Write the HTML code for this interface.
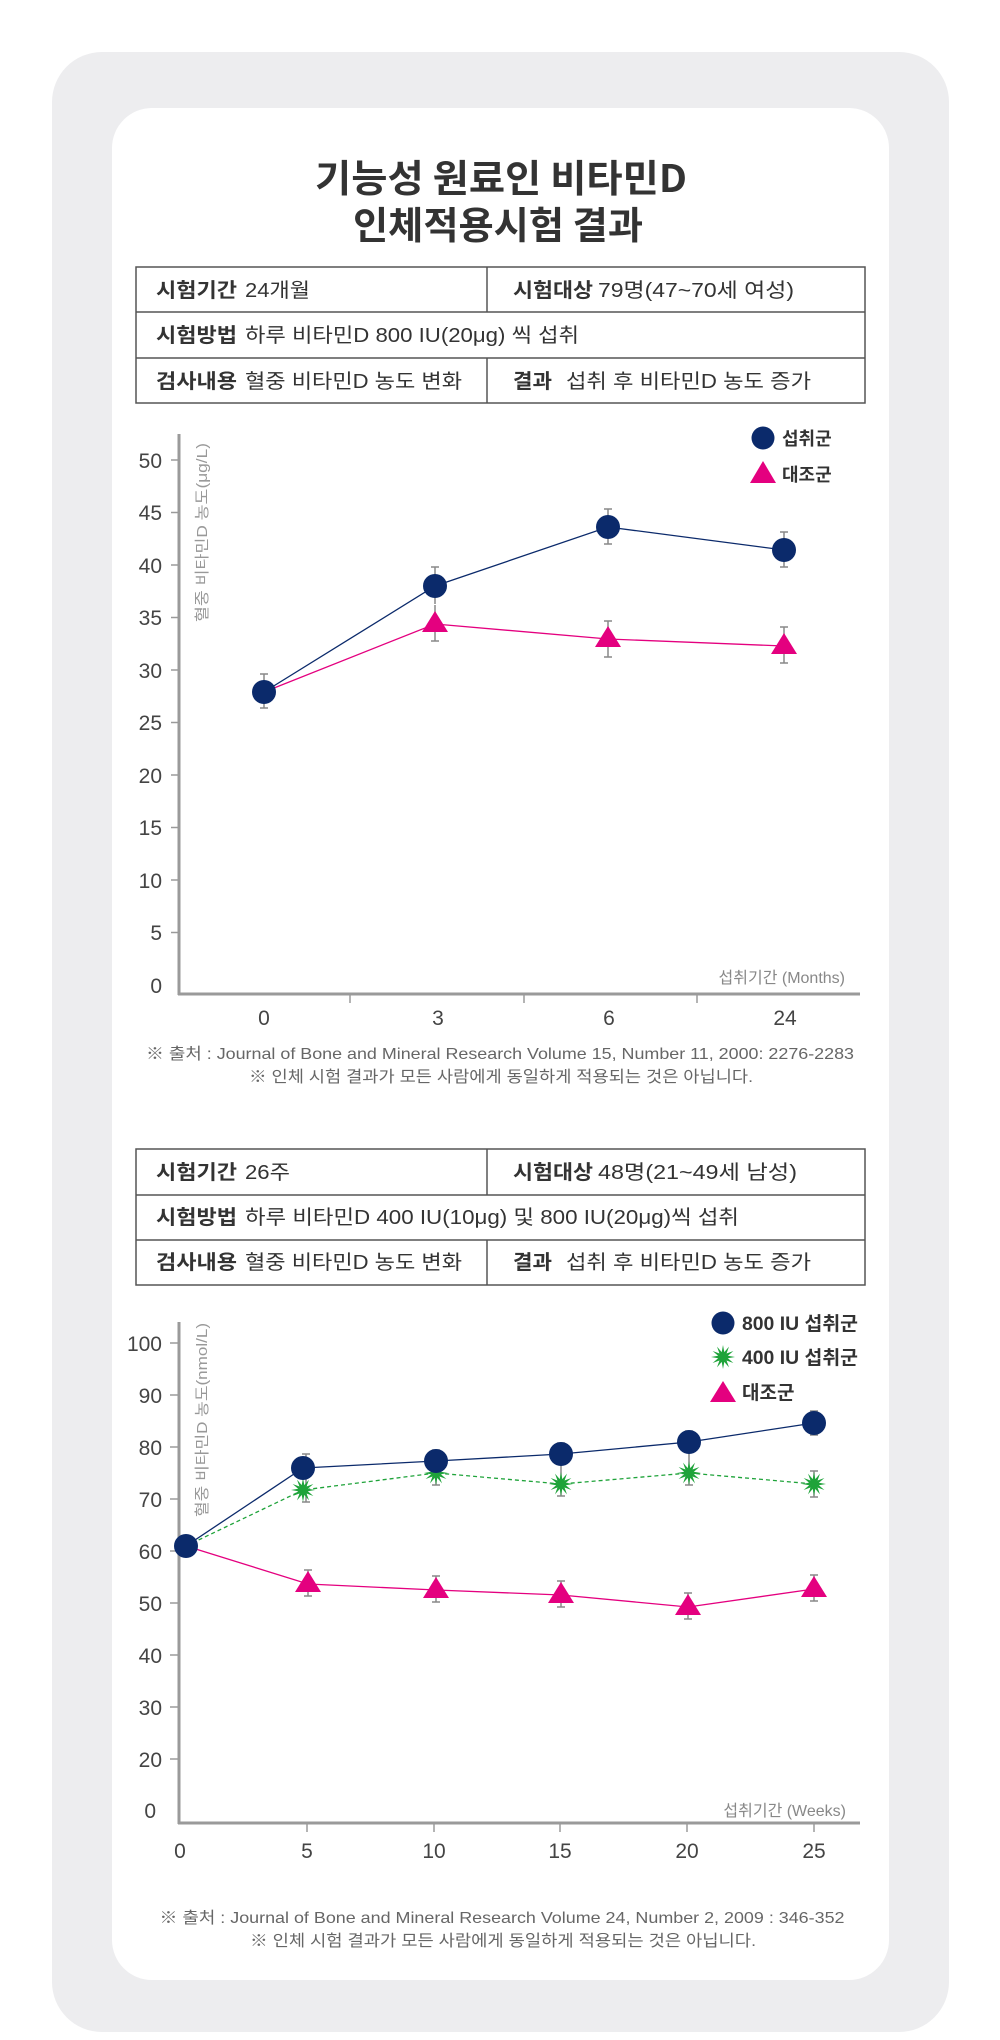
<!DOCTYPE html>
<html><head><meta charset="utf-8"><style>
html,body{margin:0;padding:0;background:#fff;}
svg{display:block;font-family:"Liberation Sans","Noto Sans CJK KR",sans-serif;}
</style></head><body>
<svg width="1000" height="2040" viewBox="0 0 1000 2040" xmlns="http://www.w3.org/2000/svg">
<defs>
<polygon id="star" points="12,0 4.83,1.29 10.39,6 3.54,3.54 6,10.39 1.29,4.83 0,12 -1.29,4.83 -6,10.39 -3.54,3.54 -10.39,6 -4.83,1.29 -12,0 -4.83,-1.29 -10.39,-6 -3.54,-3.54 -6,-10.39 -1.29,-4.83 0,-12 1.29,-4.83 6,-10.39 3.54,-3.54 10.39,-6 4.83,-1.29" fill="#1fa33a"/>
</defs>
<rect x="52" y="52" width="897" height="1980" rx="50" fill="#ededef"/>
<rect x="112" y="108" width="777" height="1872" rx="40" fill="#fff"/>

<g font-family="'Noto Sans CJK KR',sans-serif" font-weight="bold" fill="#333" font-size="38">
<text x="315" y="192" textLength="372" lengthAdjust="spacingAndGlyphs">기능성 원료인 비타민D</text>
<text x="353" y="239" textLength="290" lengthAdjust="spacingAndGlyphs">인체적용시험 결과</text>
</g>

<!-- Table 1 -->
<g fill="none" stroke="#555" stroke-width="1.5">
<rect x="136" y="267" width="729" height="136"/>
<line x1="136" y1="312" x2="865" y2="312"/><line x1="136" y1="358" x2="865" y2="358"/>
<line x1="487" y1="267" x2="487" y2="312"/><line x1="487" y1="358" x2="487" y2="403"/>
</g>
<g font-size="20" fill="#333" font-family="'Liberation Sans','Noto Sans CJK KR',sans-serif">
<text x="156" y="297" font-weight="bold" textLength="81" lengthAdjust="spacingAndGlyphs" font-family="'Noto Sans CJK KR',sans-serif">시험기간</text>
<text x="245" y="297" textLength="65" lengthAdjust="spacingAndGlyphs">24개월</text>
<text x="513" y="297" font-weight="bold" textLength="80" lengthAdjust="spacingAndGlyphs" font-family="'Noto Sans CJK KR',sans-serif">시험대상</text>
<text x="598" y="297" textLength="196" lengthAdjust="spacingAndGlyphs">79명(47~70세 여성)</text>
<text x="156" y="342" font-weight="bold" textLength="81" lengthAdjust="spacingAndGlyphs" font-family="'Noto Sans CJK KR',sans-serif">시험방법</text>
<text x="245" y="342" textLength="334" lengthAdjust="spacingAndGlyphs">하루 비타민D 800 IU(20μg) 씩 섭취</text>
<text x="156" y="388" font-weight="bold" textLength="81" lengthAdjust="spacingAndGlyphs" font-family="'Noto Sans CJK KR',sans-serif">검사내용</text>
<text x="245" y="388" textLength="217" lengthAdjust="spacingAndGlyphs">혈중 비타민D 농도 변화</text>
<text x="513" y="388" font-weight="bold" textLength="39" lengthAdjust="spacingAndGlyphs" font-family="'Noto Sans CJK KR',sans-serif">결과</text>
<text x="566" y="388" textLength="245" lengthAdjust="spacingAndGlyphs">섭취 후 비타민D 농도 증가</text>
</g>

<!-- Chart 1 -->
<g stroke="#9a9a9a" stroke-width="3" fill="none">
<line x1="179" y1="434" x2="179" y2="995"/><line x1="178" y1="994" x2="860" y2="994"/>
</g>
<g stroke="#9a9a9a" stroke-width="1.5">
<line x1="171" y1="460" x2="179" y2="460"/><line x1="171" y1="512.5" x2="179" y2="512.5"/><line x1="171" y1="565" x2="179" y2="565"/><line x1="171" y1="617.5" x2="179" y2="617.5"/><line x1="171" y1="670" x2="179" y2="670"/><line x1="171" y1="722.5" x2="179" y2="722.5"/><line x1="171" y1="775" x2="179" y2="775"/><line x1="171" y1="827.5" x2="179" y2="827.5"/><line x1="171" y1="880" x2="179" y2="880"/><line x1="171" y1="932.5" x2="179" y2="932.5"/>
<line x1="350" y1="994" x2="350" y2="1003"/><line x1="524" y1="994" x2="524" y2="1003"/><line x1="697" y1="994" x2="697" y2="1003"/>
</g>
<g font-size="21" fill="#444" text-anchor="end">
<text x="162" y="468">50</text><text x="162" y="520">45</text><text x="162" y="573">40</text><text x="162" y="625">35</text><text x="162" y="678">30</text><text x="162" y="730">25</text><text x="162" y="783">20</text><text x="162" y="835">15</text><text x="162" y="888">10</text><text x="162" y="940">5</text><text x="162" y="993">0</text>
</g>
<g font-size="21" fill="#444" text-anchor="middle">
<text x="264" y="1025">0</text><text x="438" y="1025">3</text><text x="609" y="1025">6</text><text x="785" y="1025">24</text>
</g>
<text transform="translate(207,622) rotate(-90)" font-size="15" fill="#999" textLength="179" lengthAdjust="spacingAndGlyphs">혈중 비타민D 농도(μg/L)</text>
<text x="845" y="983" font-size="16" fill="#888" text-anchor="end">섭취기간 (Months)</text>

<g stroke="#888" stroke-width="1.5">
<line x1="264" y1="674" x2="264" y2="708"/><line x1="260" y1="674" x2="268" y2="674"/><line x1="260" y1="708" x2="268" y2="708"/>
<line x1="435" y1="567" x2="435" y2="604"/><line x1="431" y1="567" x2="439" y2="567"/>
<line x1="435" y1="605" x2="435" y2="641"/><line x1="431" y1="641" x2="439" y2="641"/>
<line x1="608" y1="509" x2="608" y2="544"/><line x1="604" y1="509" x2="612" y2="509"/><line x1="604" y1="544" x2="612" y2="544"/>
<line x1="784" y1="532" x2="784" y2="567"/><line x1="780" y1="532" x2="788" y2="532"/><line x1="780" y1="567" x2="788" y2="567"/>
<line x1="608" y1="621" x2="608" y2="657"/><line x1="604" y1="621" x2="612" y2="621"/><line x1="604" y1="657" x2="612" y2="657"/>
<line x1="784" y1="627" x2="784" y2="663"/><line x1="780" y1="627" x2="788" y2="627"/><line x1="780" y1="663" x2="788" y2="663"/>
</g>
<polyline points="264,692 435,624 608,639 784,646" fill="none" stroke="#e4007f" stroke-width="1.3"/>
<polyline points="264,692 435,586 608,527 784,550" fill="none" stroke="#0b2a6b" stroke-width="1.3"/>
<g fill="#e4007f">
<polygon points="435,611 422,632 448,632"/><polygon points="608,626 595,647 621,647"/><polygon points="784,633 771,654 797,654"/>
</g>
<g fill="#0b2a6b">
<circle cx="264" cy="692" r="12"/><circle cx="435" cy="586" r="12"/><circle cx="608" cy="527" r="12"/><circle cx="784" cy="550" r="12"/>
</g>
<circle cx="763" cy="438" r="11.5" fill="#0b2a6b"/>
<polygon points="763,461 750,483 776,483" fill="#e4007f"/>
<g font-size="18" font-weight="bold" fill="#333" font-family="'Noto Sans CJK KR',sans-serif">
<text x="782" y="445">섭취군</text><text x="782" y="481">대조군</text>
</g>
<g font-size="16" fill="#666" text-anchor="middle">
<text x="500" y="1059" textLength="708" lengthAdjust="spacingAndGlyphs">※ 출처 : Journal of Bone and Mineral Research Volume 15, Number 11, 2000: 2276-2283</text>
<text x="501" y="1082" textLength="504" lengthAdjust="spacingAndGlyphs">※ 인체 시험 결과가 모든 사람에게 동일하게 적용되는 것은 아닙니다.</text>
</g>

<!-- Table 2 -->
<g fill="none" stroke="#555" stroke-width="1.5">
<rect x="136" y="1149" width="729" height="136"/>
<line x1="136" y1="1195" x2="865" y2="1195"/><line x1="136" y1="1240" x2="865" y2="1240"/>
<line x1="487" y1="1149" x2="487" y2="1195"/><line x1="487" y1="1240" x2="487" y2="1285"/>
</g>
<g font-size="20" fill="#333">
<text x="156" y="1179" font-weight="bold" textLength="81" lengthAdjust="spacingAndGlyphs" font-family="'Noto Sans CJK KR',sans-serif">시험기간</text>
<text x="245" y="1179" textLength="45" lengthAdjust="spacingAndGlyphs">26주</text>
<text x="513" y="1179" font-weight="bold" textLength="80" lengthAdjust="spacingAndGlyphs" font-family="'Noto Sans CJK KR',sans-serif">시험대상</text>
<text x="598" y="1179" textLength="199" lengthAdjust="spacingAndGlyphs">48명(21~49세 남성)</text>
<text x="156" y="1224" font-weight="bold" textLength="81" lengthAdjust="spacingAndGlyphs" font-family="'Noto Sans CJK KR',sans-serif">시험방법</text>
<text x="245" y="1224" textLength="494" lengthAdjust="spacingAndGlyphs">하루 비타민D 400 IU(10μg) 및 800 IU(20μg)씩 섭취</text>
<text x="156" y="1269" font-weight="bold" textLength="81" lengthAdjust="spacingAndGlyphs" font-family="'Noto Sans CJK KR',sans-serif">검사내용</text>
<text x="245" y="1269" textLength="217" lengthAdjust="spacingAndGlyphs">혈중 비타민D 농도 변화</text>
<text x="513" y="1269" font-weight="bold" textLength="39" lengthAdjust="spacingAndGlyphs" font-family="'Noto Sans CJK KR',sans-serif">결과</text>
<text x="566" y="1269" textLength="245" lengthAdjust="spacingAndGlyphs">섭취 후 비타민D 농도 증가</text>
</g>

<!-- Chart 2 -->
<g stroke="#9a9a9a" stroke-width="3" fill="none">
<line x1="179" y1="1322" x2="179" y2="1824"/><line x1="178" y1="1823" x2="860" y2="1823"/>
</g>
<g stroke="#9a9a9a" stroke-width="1.5">
<line x1="170" y1="1343" x2="179" y2="1343"/><line x1="170" y1="1395" x2="179" y2="1395"/><line x1="170" y1="1447" x2="179" y2="1447"/><line x1="170" y1="1499" x2="179" y2="1499"/><line x1="170" y1="1551" x2="179" y2="1551"/><line x1="170" y1="1603" x2="179" y2="1603"/><line x1="170" y1="1655" x2="179" y2="1655"/><line x1="170" y1="1707" x2="179" y2="1707"/><line x1="170" y1="1759" x2="179" y2="1759"/>
<line x1="307" y1="1823" x2="307" y2="1832"/><line x1="434" y1="1823" x2="434" y2="1832"/><line x1="560" y1="1823" x2="560" y2="1832"/><line x1="687" y1="1823" x2="687" y2="1832"/><line x1="814" y1="1823" x2="814" y2="1832"/>
</g>
<g font-size="21" fill="#444" text-anchor="end">
<text x="162" y="1351">100</text><text x="162" y="1403">90</text><text x="162" y="1455">80</text><text x="162" y="1507">70</text><text x="162" y="1559">60</text><text x="162" y="1611">50</text><text x="162" y="1663">40</text><text x="162" y="1715">30</text><text x="162" y="1767">20</text><text x="156" y="1818">0</text>
</g>
<g font-size="21" fill="#444" text-anchor="middle">
<text x="180" y="1858">0</text><text x="307" y="1858">5</text><text x="434" y="1858">10</text><text x="560" y="1858">15</text><text x="687" y="1858">20</text><text x="814" y="1858">25</text>
</g>
<text transform="translate(207,1517) rotate(-90)" font-size="15" fill="#999" textLength="194" lengthAdjust="spacingAndGlyphs">혈중 비타민D 농도(nmol/L)</text>
<text x="846" y="1816" font-size="16" fill="#888" text-anchor="end">섭취기간 (Weeks)</text>

<g stroke="#888" stroke-width="1.5">
<line x1="306" y1="1454" x2="306" y2="1502"/><line x1="302" y1="1454" x2="310" y2="1454"/><line x1="302" y1="1502" x2="310" y2="1502"/>
<line x1="436" y1="1450" x2="436" y2="1485"/><line x1="432" y1="1450" x2="440" y2="1450"/><line x1="432" y1="1485" x2="440" y2="1485"/>
<line x1="561" y1="1443" x2="561" y2="1496"/><line x1="557" y1="1443" x2="565" y2="1443"/><line x1="557" y1="1496" x2="565" y2="1496"/>
<line x1="689" y1="1431" x2="689" y2="1485"/><line x1="685" y1="1431" x2="693" y2="1431"/><line x1="685" y1="1485" x2="693" y2="1485"/>
<line x1="814" y1="1411" x2="814" y2="1435"/><line x1="810" y1="1411" x2="818" y2="1411"/><line x1="810" y1="1435" x2="818" y2="1435"/>
<line x1="814" y1="1471" x2="814" y2="1497"/><line x1="810" y1="1471" x2="818" y2="1471"/><line x1="810" y1="1497" x2="818" y2="1497"/>
<line x1="308" y1="1570" x2="308" y2="1596"/><line x1="304" y1="1570" x2="312" y2="1570"/><line x1="304" y1="1596" x2="312" y2="1596"/>
<line x1="436" y1="1576" x2="436" y2="1602"/><line x1="432" y1="1576" x2="440" y2="1576"/><line x1="432" y1="1602" x2="440" y2="1602"/>
<line x1="561" y1="1581" x2="561" y2="1607"/><line x1="557" y1="1581" x2="565" y2="1581"/><line x1="557" y1="1607" x2="565" y2="1607"/>
<line x1="688" y1="1593" x2="688" y2="1619"/><line x1="684" y1="1593" x2="692" y2="1593"/><line x1="684" y1="1619" x2="692" y2="1619"/>
<line x1="814" y1="1575" x2="814" y2="1601"/><line x1="810" y1="1575" x2="818" y2="1575"/><line x1="810" y1="1601" x2="818" y2="1601"/>
</g>
<polyline points="186,1546 308,1584 436,1590 561,1595 688,1607 814,1589" fill="none" stroke="#e4007f" stroke-width="1.3"/>
<polyline points="186,1546 303,1490 436,1473 561,1484 689,1473 814,1484" fill="none" stroke="#1fa33a" stroke-width="1.3" stroke-dasharray="4,3"/>
<polyline points="186,1546 303,1468 436,1461 561,1454 689,1442 814,1423" fill="none" stroke="#0b2a6b" stroke-width="1.3"/>
<g fill="#e4007f">
<polygon points="308,1571 295,1592 321,1592"/><polygon points="436,1577 423,1598 449,1598"/><polygon points="561,1582 548,1603 574,1603"/><polygon points="688,1594 675,1615 701,1615"/><polygon points="814,1576 801,1597 827,1597"/>
</g>
<use href="#star" x="303" y="1490"/><use href="#star" x="436" y="1473"/><use href="#star" x="561" y="1484"/><use href="#star" x="689" y="1473"/><use href="#star" x="814" y="1484"/>
<g fill="#0b2a6b">
<circle cx="186" cy="1546" r="12"/><circle cx="303" cy="1468" r="12"/><circle cx="436" cy="1461" r="12"/><circle cx="561" cy="1454" r="12"/><circle cx="689" cy="1442" r="12"/><circle cx="814" cy="1423" r="12"/>
</g>
<circle cx="723" cy="1323" r="11.5" fill="#0b2a6b"/>
<use href="#star" x="723" y="1357"/>
<polygon points="723,1381 710,1402 736,1402" fill="#e4007f"/>
<g font-size="19" font-weight="bold" fill="#333" font-family="'Liberation Sans','Noto Sans CJK KR',sans-serif">
<text x="742" y="1330" textLength="116" lengthAdjust="spacingAndGlyphs">800 IU 섭취군</text>
<text x="742" y="1364" textLength="116" lengthAdjust="spacingAndGlyphs">400 IU 섭취군</text>
<text x="742" y="1399" font-family="'Noto Sans CJK KR',sans-serif">대조군</text>
</g>
<g font-size="16" fill="#666" text-anchor="middle">
<text x="502" y="1923" textLength="685" lengthAdjust="spacingAndGlyphs">※ 출처 : Journal of Bone and Mineral Research Volume 24, Number 2, 2009 : 346-352</text>
<text x="503" y="1946" textLength="506" lengthAdjust="spacingAndGlyphs">※ 인체 시험 결과가 모든 사람에게 동일하게 적용되는 것은 아닙니다.</text>
</g>
</svg>
</body></html>
